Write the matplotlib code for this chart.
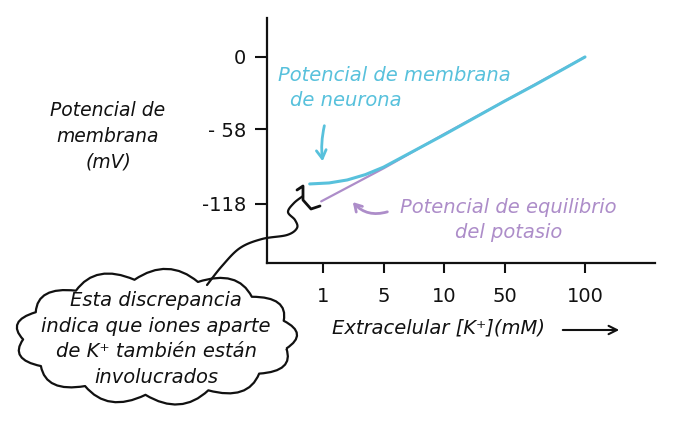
import numpy as np
import matplotlib.pyplot as plt
from matplotlib.path import Path
from matplotlib.patches import PathPatch

# axis ticks (x axis is drawn not to scale)
x_ticks = [1, 2, 3, 4, 5.33]
x_labels = ["1", "5", "10", "50", "100"]
y_ticks = [0, -58, -118]
y_labels = ["0", "- 58", "-118"]

# potassium equilibrium potential
k_x = [0.97, 2.0, 3.0, 4.0, 5.33]
k_y = [-116, -89.5, -62, -35.5, 0]

# neuron membrane potential
m_x = [0.78, 1.1, 1.4, 1.7, 2.0, 2.5, 3.0, 3.5, 4.0, 4.5, 5.0, 5.33]
m_y = [-102, -101.2, -98.8, -94.5, -88.5, -75.5, -62.5, -49, -35.5, -22.5, -9, 0]

CYAN = "#58c1dc"
PURPLE = "#ad8dc9"
INK = "#111111"
HAND = dict(family="DejaVu Sans", style="italic")


def smooth(points, k=14):
    # catmull-rom through the given points
    p = np.array(points, float)
    p = np.vstack([p[0], p, p[-1]])
    out = []
    for i in range(1, len(p) - 2):
        p0, p1, p2, p3 = p[i - 1], p[i], p[i + 1], p[i + 2]
        for s in np.linspace(0, 1, k, endpoint=False):
            out.append(0.5 * (2 * p1 + (-p0 + p2) * s
                              + (2 * p0 - 5 * p1 + 4 * p2 - p3) * s ** 2
                              + (-p0 + 3 * p1 - 3 * p2 + p3) * s ** 3))
    out.append(p[-2])
    return np.array(out)


def cloud(cx, cy, rx, ry, n, bump, start=0.2):
    t = np.linspace(start, start + 2 * np.pi, n + 1)
    pts = np.c_[cx + rx * np.cos(t), cy + ry * np.sin(t)]
    verts = [tuple(pts[0])]
    codes = [Path.MOVETO]
    c = np.array([cx, cy])
    for i in range(n):
        p0, p1 = pts[i], pts[i + 1]
        mid = (p0 + p1) / 2
        out = (mid - c) / np.array([rx, ry])
        out = out / np.linalg.norm(out)
        ctrl = mid + out * 2 * bump
        verts += [tuple(ctrl), tuple(p1)]
        codes += [Path.CURVE3, Path.CURVE3]
    return Path(verts, codes)


fig = plt.figure(figsize=(7, 4.25), dpi=100)
ax = fig.add_axes([267 / 700, 1 - 263 / 425, 388 / 700, 245 / 425])

ax.plot(k_x, k_y, color=PURPLE, lw=1.6, solid_capstyle="round")
ax.plot(m_x, m_y, color=CYAN, lw=2.2, solid_capstyle="round")

ax.set_xlim(0.074, 6.487)
ax.set_ylim(-165.5, 31.3)
ax.set_xticks(x_ticks)
ax.set_xticklabels(x_labels)
ax.set_yticks(y_ticks)
ax.set_yticklabels(y_labels)
for s in ["top", "right"]:
    ax.spines[s].set_visible(False)
for s in ["left", "bottom"]:
    ax.spines[s].set_linewidth(1.6)
    ax.spines[s].set_color(INK)
ax.tick_params(axis="x", length=7, width=1.5, pad=10, labelsize=14, colors=INK)
ax.tick_params(axis="y", length=9, width=1.5, pad=6, labelsize=14, colors=INK)

# overlay in pixel coordinates for the hand drawn notes
ov = fig.add_axes([0, 0, 1, 1], zorder=3)
ov.set_xlim(0, 700)
ov.set_ylim(425, 0)
ov.axis("off")

ov.text(278, 75, "Potencial de membrana", color=CYAN, fontsize=14, va="center", **HAND)
ov.text(290, 100, "de neurona", color=CYAN, fontsize=14, va="center", **HAND)
ov.annotate("", xy=(323, 164), xytext=(325, 123),
            arrowprops=dict(arrowstyle="->,head_length=0.6,head_width=0.35", color=CYAN,
                            lw=2, connectionstyle="arc3,rad=0.1"))

ov.text(508, 207, "Potencial de equilibrio", color=PURPLE, fontsize=14,
        ha="center", va="center", **HAND)
ov.text(509, 232, "del potasio", color=PURPLE, fontsize=14, ha="center", va="center", **HAND)
ov.annotate("", xy=(351, 200), xytext=(390, 211),
            arrowprops=dict(arrowstyle="->,head_length=0.5,head_width=0.3", color=PURPLE,
                            lw=2, connectionstyle="arc3,rad=-0.35"))

ov.text(108, 136, "Potencial de\nmembrana\n(mV)", color=INK, fontsize=13.5,
        ha="center", va="center", linespacing=1.45, **HAND)

ov.text(332, 328, "Extracelular [K⁺](mM)", color=INK, fontsize=14, va="center", **HAND)
ov.annotate("", xy=(622, 330), xytext=(560, 330),
            arrowprops=dict(arrowstyle="->,head_length=0.6,head_width=0.3", color=INK, lw=1.5))

# bracket and connector to the cloud
bracket = [(297, 190), (303, 186), (303, 200), (311, 209), (320, 206)]
ov.plot(*zip(*bracket), color=INK, lw=2, solid_joinstyle="round", solid_capstyle="round")
squiggle = smooth([(303, 196), (294, 203), (288, 212), (295, 220), (297, 228),
                   (287, 235), (262, 239), (240, 248), (222, 266), (207, 285)])
ov.plot(squiggle[:, 0], squiggle[:, 1], color=INK, lw=1.6, solid_capstyle="round")

ov.add_patch(PathPatch(cloud(156, 337, 133, 58, 13, 12), facecolor="white",
                       edgecolor=INK, lw=1.6, joinstyle="round"))
ov.text(156, 339, "Esta discrepancia\nindica que iones aparte\nde K⁺ también están\ninvolucrados",
        color=INK, fontsize=14, ha="center", va="center", linespacing=1.45, **HAND)

fig.savefig("out.png", dpi=100)
